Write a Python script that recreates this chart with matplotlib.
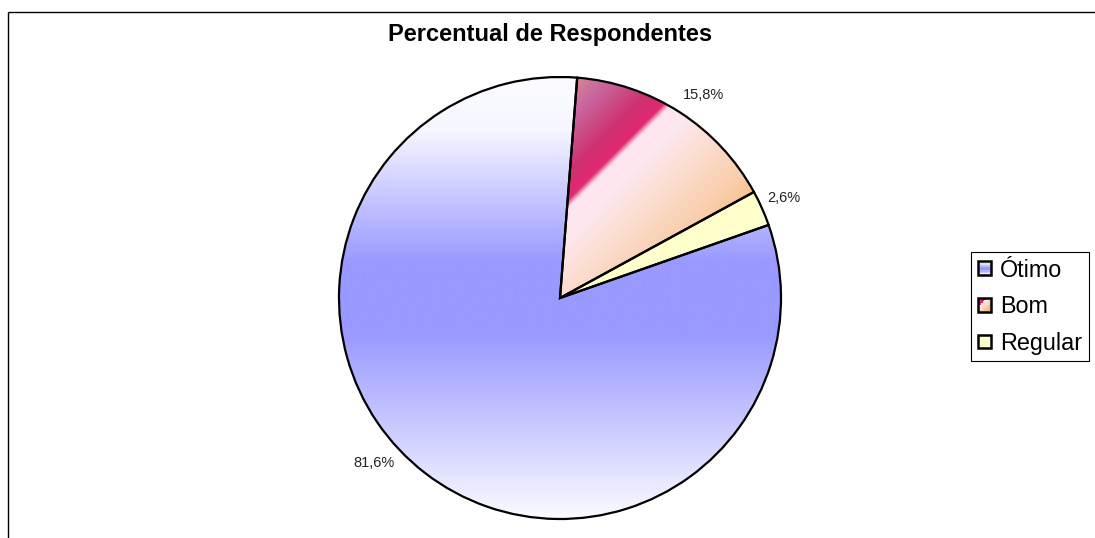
import numpy as np
import matplotlib
matplotlib.use("Agg")
import matplotlib.pyplot as plt
from matplotlib.patches import Rectangle, Patch
from matplotlib.legend_handler import HandlerBase

# Survey answers and their share of respondents (%)
categories = ["Ótimo", "Bom", "Regular"]
percent = [81.6, 15.8, 2.6]
title = "Percentual de Respondentes"

W, H = 1095, 538
plt.rcParams['font.family'] = ['Liberation Sans', 'DejaVu Sans']

# Gradient fills: (position, rgb) stops and the gradient direction
BLUE_STOPS = [(0.0, (251, 251, 255)), (0.12, (246, 246, 255)), (0.42, (153, 153, 255)),
              (0.58, (153, 153, 255)), (1.0, (251, 251, 255))]
BOM_STOPS = [(0.00, (220, 150, 130)), (0.12, (200, 105, 160)), (0.25, (205, 50, 110)),
             (0.315, (225, 40, 112)), (0.335, (255, 228, 240)), (0.40, (253, 232, 238)),
             (0.55, (251, 218, 200)), (0.68, (249, 205, 170)), (0.76, (248, 192, 130)),
             (1.00, (248, 185, 120))]
YELLOW_STOPS = [(0.0, (255, 255, 204)), (1.0, (255, 255, 204))]
fills = [(BLUE_STOPS, "vertical"), (BOM_STOPS, "diagonal"), (YELLOW_STOPS, "vertical")]


def blend(stops, t):
    t = np.clip(t, 0, 1)
    pos = np.array([s[0] for s in stops])
    cols = np.array([s[1] for s in stops], float) / 255
    return np.stack([np.interp(t, pos, cols[:, k]) for k in range(3)], axis=-1)


def gradient(stops, mode, nx, ny, w=1.0, h=1.0):
    u = (np.arange(nx) + 0.5) / nx
    v = (np.arange(ny) + 0.5) / ny
    U, V = np.meshgrid(u, v)
    t = V if mode == "vertical" else (U * w + V * h) / (w + h)
    return blend(stops, t)


class HandlerGradient(HandlerBase):
    """Legend swatch filled with the same gradient as its slice."""
    def __init__(self, stops, mode, n=8):
        super().__init__()
        self.stops, self.mode, self.n = stops, mode, n

    def create_artists(self, legend, orig_handle, xdescent, ydescent,
                       width, height, fontsize, trans):
        n = self.n
        img = gradient(self.stops, self.mode, n, n)
        x0, y0 = -xdescent, -ydescent
        arts = []
        for j in range(n):
            for i in range(n):
                r = Rectangle((x0 + i * width / n, y0 + height - (j + 1) * height / n),
                              width / n, height / n, facecolor=img[j, i],
                              edgecolor='none', transform=trans)
                arts.append(r)
        arts.append(Rectangle((x0, y0), width, height, facecolor='none',
                              edgecolor='black', linewidth=1.8, transform=trans))
        return arts


fig = plt.figure(figsize=(W / 100, H / 100), dpi=100)
ax = fig.add_axes([0, 0, 1, 1])

cx, cy, R = 560, H - 298, 221
wedges, _ = ax.pie(percent, startangle=19.3, counterclock=False,
                   center=(cx, cy), radius=R,
                   wedgeprops=dict(edgecolor='black', linewidth=1.6))

for w, (stops, mode) in zip(wedges, fills):
    w.set_facecolor('none')
    w.set_zorder(2)
    bb = w.get_path().get_extents()
    nx, ny = max(int(bb.width * 2), 4), max(int(bb.height * 2), 4)
    img = gradient(stops, mode, nx, ny, bb.width, bb.height)
    im = ax.imshow(img, extent=(bb.x0, bb.x1, bb.y0, bb.y1), origin='upper',
                   interpolation='bilinear', zorder=1)
    im.set_clip_path(w)

# Percentage labels outside the slices
label_pos = [(374, 467), (704, 99), (784, 202)]
for v, (x, yb) in zip(percent, label_pos):
    ax.text(x, H - yb, f"{v:.1f}".replace('.', ',') + '%', ha='center',
            va='baseline', fontsize=10.5, color='#222222')

ax.text(550.5, H - 41, title, ha='center', va='baseline',
        fontsize=17, fontweight='bold')

# Chart area border (left and top edges)
ax.plot([8, 8], [0, H - 11.5], color='black', linewidth=1.0, solid_capstyle='butt')
ax.plot([8, W], [H - 11.5, H - 11.5], color='black', linewidth=1.0, solid_capstyle='butt')

handles = [Patch(label=c) for c in categories]
hmap = {h: HandlerGradient(s, m) for h, (s, m) in zip(handles, fills)}
leg = ax.legend(handles=handles, handler_map=hmap, loc='upper left',
                bbox_to_anchor=(971 / W, 1 - 252 / H), bbox_transform=fig.transFigure,
                fontsize=16.8, frameon=True, fancybox=False, edgecolor='black',
                framealpha=1, borderpad=0.28, handlelength=0.58, handleheight=0.52,
                handletextpad=0.38, labelspacing=0.58, borderaxespad=0)
leg.get_frame().set_linewidth(0.8)

ax.set_xlim(0, W)
ax.set_ylim(0, H)
ax.set_aspect('auto')
ax.axis('off')

fig.savefig('out.png', dpi=100, facecolor='white')
